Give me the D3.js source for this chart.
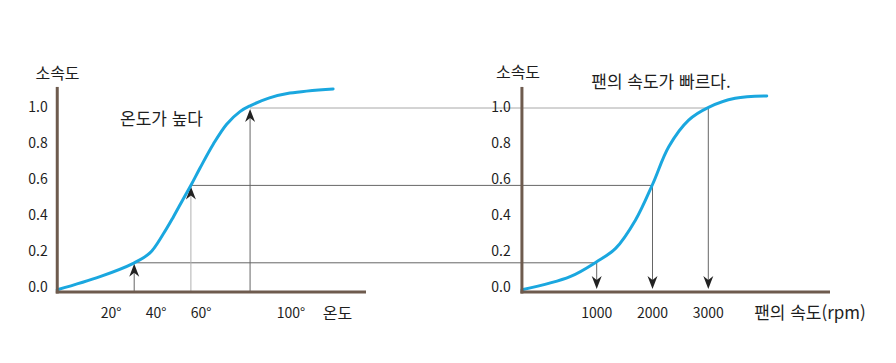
<!DOCTYPE html>
<html lang="ko">
<head>
<meta charset="UTF-8" />
<title>소속도</title>
<script src="https://cdn.jsdelivr.net/npm/d3@7/dist/d3.min.js"></script>
<style>
  body { margin: 0; background: #fff; }
  text { font-family: "Noto Sans CJK KR", "Noto Sans", sans-serif; fill: #1e1e1e; }
</style>
</head>
<body>
<svg id="svg" width="896" height="363"></svg>
<script>
// 데이터
const yTicks = [0, 0.2, 0.4, 0.6, 0.8, 1.0];
const tempTicks = [20, 40, 60, 100];
const rpmTicks = [1000, 2000, 3000];

// 온도 - 소속도 곡선 [온도, 소속도]
const tempCurve = [[-3, -0.01], [16, 0.063], [30.8, 0.137], [38.2, 0.195], [44.1, 0.3],
  [48.6, 0.395], [53, 0.495], [56.6, 0.575], [60.4, 0.665], [66.4, 0.8], [72.3, 0.91],
  [78.2, 0.98], [82.7, 1.012], [91, 1.055], [100.4, 1.083], [119.6, 1.106]];
// 팬 속도 - 소속도 곡선 [rpm, 소속도]
const rpmCurve = [[-340, -0.01], [523, 0.063], [1000, 0.146], [1339, 0.22], [1696, 0.378],
  [2000, 0.575], [2291, 0.785], [2648, 0.933], [3005, 1.004], [3482, 1.054], [4048, 1.067]];

// 대응 관계 (온도 → 소속도 → 팬 속도)
const levels = [0.14, 0.57, 1.0];
const tempMarks = [31.2, 56.4, 82.7];
const rpmMarks = [1000, 2000, 3000];

const svg = d3.select("#svg");
const axisColor = "#6e5b4e";
const curveColor = "#1aa7df";

// 세로 비율척 (두 그래프 공통)
const y = d3.scaleLinear().domain([0, 1]).range([288, 108]);
const axisY = y(0) + 4;
const axisTop = y(1.117);

// 가로 비율척
const xL = d3.scaleLinear().domain([0, 100]).range([64, 289]);
const xR = d3.scaleLinear().domain([1000, 3000]).range([596.7, 708.3]);

const line = sx => d3.line().x(d => sx(d[0])).y(d => y(d[1])).curve(d3.curveCatmullRom.alpha(0.5));

// 화살표 머리
const arrowPath = "M0,0 L5,13 L0,9 L-5,13 Z";

// 가이드 선
const gLine = svg.append("g").attr("fill", "none");
levels.forEach((lv, i) => {
  gLine.append("line")
    .attr("x1", xL(tempMarks[i])).attr("x2", xR(rpmMarks[i]))
    .attr("y1", y(lv)).attr("y2", y(lv))
    .attr("stroke", i === 2 ? "#a8a8a8" : "#666").attr("stroke-width", 1);
  // 왼쪽: 위쪽 화살표
  gLine.append("line")
    .attr("x1", xL(tempMarks[i])).attr("x2", xL(tempMarks[i]))
    .attr("y1", axisY).attr("y2", y(lv) + 5)
    .attr("stroke", i === 1 ? "#b0b0b0" : "#666").attr("stroke-width", 1);
  svg.append("path").attr("d", arrowPath).attr("fill", "#222")
    .attr("transform", `translate(${xL(tempMarks[i])},${y(lv) + 1})`);
  // 오른쪽: 아래쪽 화살표
  gLine.append("line")
    .attr("x1", xR(rpmMarks[i])).attr("x2", xR(rpmMarks[i]))
    .attr("y1", y(lv)).attr("y2", axisY - 8)
    .attr("stroke", "#666").attr("stroke-width", 1);
  svg.append("path").attr("d", arrowPath).attr("fill", "#222")
    .attr("transform", `translate(${xR(rpmMarks[i])},${axisY - 3}) rotate(180)`);
});

// 곡선
svg.append("path").datum(tempCurve).attr("d", line(xL))
  .attr("fill", "none").attr("stroke", curveColor).attr("stroke-width", 3).attr("stroke-linecap", "round");
svg.append("path").datum(rpmCurve).attr("d", line(xR))
  .attr("fill", "none").attr("stroke", curveColor).attr("stroke-width", 3).attr("stroke-linecap", "round");

// 축
function drawAxes(x0, x1) {
  svg.append("line").attr("x1", x0).attr("x2", x0).attr("y1", axisTop).attr("y2", axisY + 1.5)
    .attr("stroke", axisColor).attr("stroke-width", 3);
  svg.append("line").attr("x1", x0 - 1.5).attr("x2", x1).attr("y1", axisY).attr("y2", axisY)
    .attr("stroke", axisColor).attr("stroke-width", 3);
}
drawAxes(xL(-3), 366);
drawAxes(xR(-340), 830);

// 눈금 글자
function yLabels(cx) {
  svg.append("g").selectAll("text").data(yTicks).join("text")
    .attr("x", cx).attr("y", d => y(d) - 1).attr("dy", "0.35em")
    .attr("text-anchor", "middle").attr("font-size", 14)
    .text(d => d.toFixed(1));
}
yLabels(38);
yLabels(501);

svg.append("g").selectAll("text").data(tempTicks).join("text")
  .attr("x", d => xL(d) + 2).attr("y", 317.5)
  .attr("text-anchor", "middle").attr("font-size", 14)
  .text(d => d + "°");

svg.append("g").selectAll("text").data(rpmTicks).join("text")
  .attr("x", d => xR(d)).attr("y", 317.5)
  .attr("text-anchor", "middle").attr("font-size", 14)
  .text(d => d);

// 제목 및 축 이름
const label = (x, yy, txt, size) => svg.append("text")
  .attr("x", x).attr("y", yy).attr("dy", "0.35em")
  .attr("text-anchor", "middle").attr("font-size", size).text(txt);
label(57.5, 73, "소속도", 16);
label(518, 72.5, "소속도", 16);
label(161.5, 119, "온도가 높다", 17);
label(661, 82.5, "팬의 속도가 빠르다.", 17);
label(337.5, 313, "온도", 16);
label(810, 313, "팬의 속도(rpm)", 17);
</script>
</body>
</html>
